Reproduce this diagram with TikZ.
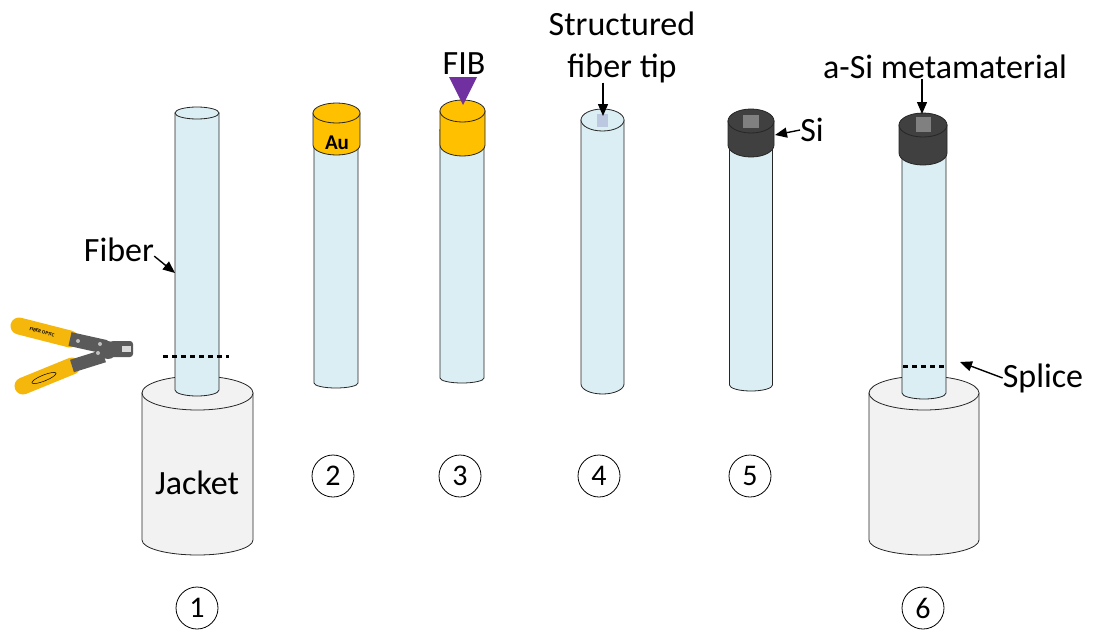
\documentclass[tikz,border=0pt]{standalone}
\usepackage{fontspec}
\setmainfont{Carlito}
\usetikzlibrary{positioning,arrows.meta}
\definecolor{fibreblue}{HTML}{DAEEF3}
\definecolor{jacketgray}{HTML}{F2F2F2}
\definecolor{gold}{HTML}{FFC000}
\definecolor{capdark}{HTML}{404040}
\definecolor{fibpurple}{HTML}{7030A0}
\definecolor{tipsquare}{HTML}{BCC8E0}
\definecolor{metasquare}{HTML}{808080}
\definecolor{plyellow}{HTML}{F5B70C}
\definecolor{plgray}{HTML}{5A5A5A}
\tikzset{lbl/.style={font=\fontsize{34}{42}\selectfont, inner sep=0pt}}
\tikzset{numcirc/.style={draw, circle, minimum size=42pt, inner sep=0pt, line width=0.8pt, font=\fontsize{30}{30}\selectfont}}
\tikzset{arr/.style={draw, -{Triangle[length=12pt,width=10pt]}, line width=1.4pt}}
\tikzset{cutline/.style={line width=3pt, dash pattern=on 5pt off 4pt}}
\tikzset{edge/.style={draw=black!85, line width=0.8pt}}
% cylinder: centre x, half width, top y, bottom y, top ry, bottom ry, fill
\newcommand{\tube}[7]{%
  \filldraw[edge, fill=#7] (#1-#2,#3) -- (#1-#2,#4)
    arc[start angle=180, end angle=360, x radius=#2pt, y radius=#6pt] -- (#1+#2,#3) -- cycle;
  \filldraw[edge, fill=#7] (#1,#3) ellipse[x radius=#2pt, y radius=#5pt];
}
\begin{document}
\begin{tikzpicture}[x=1pt, y=1pt]
\useasboundingbox (0,0) rectangle (1095,-632);
% 1: cleaved fibre in its jacket
\tube{197.5}{55.5}{-393}{-540}{17}{15}{jacketgray}
\tube{197}{22}{-113}{-390}{6}{6}{fibreblue}
\draw[cutline] (163,-356) -- (229,-356);
\node[lbl] (lbljacket) at (197,-483) {Jacket};
\node[lbl] (lblfiber) at (119,-250) {Fiber};
\coordinate (fibreside) at (175,-273);
\draw[arr] ([yshift=6pt]lblfiber.south east) -- (fibreside);
% stripper
\draw[line width=17pt, line cap=round, plyellow] (19,-326) -- (70,-339);
\draw[line width=14pt, plgray] (70,-339) -- (106,-347);
\draw[line width=17pt, line cap=round, plyellow] (23,-386) -- (72,-366);
\draw[line width=13pt, plgray] (72,-366) -- (104,-356);
\fill[plgray] (108,-350) circle (9pt);
\fill[plgray, rounded corners=3pt] (110,-341) rectangle (133,-357);
\fill[white!85!black] (122,-346) rectangle (131,-352);
\fill[black!25] (78,-341) circle (2pt) (98,-353) circle (2pt) (100,-344) circle (2pt);
\node[font=\fontsize{5}{5}\selectfont\bfseries, rotate=-15, inner sep=0pt] (brand) at (42,-332) {FIBER OPTIC};
\draw[line width=0.5pt, rotate around={22:(44,-378)}] (44,-378) ellipse[x radius=13pt, y radius=3pt];
% 2: gold coating
\tube{336}{22}{-130}{-383}{5}{5}{fibreblue}
\tube{336.5}{23.5}{-113}{-145}{10}{10}{gold}
\node[font=\bfseries\fontsize{21}{21}\selectfont, inner sep=0pt] (lblau) at (337,-143) {Au};
% 3: ion beam milling
\tube{462}{22}{-130}{-378}{5}{5}{fibreblue}
\tube{462.5}{22.5}{-111}{-145}{11}{11}{gold}
\fill[fibpurple] (449,-77) -- (477,-77) -- (463,-105) -- cycle;
\node[lbl] (lblfib) at (464,-64) {FIB};
% 4: structured tip
\tube{602.5}{21.5}{-120}{-384}{11}{10}{fibreblue}
\fill[tipsquare] (597,-114) rectangle (608,-127);
\node[lbl, align=center] (lbltip) at (622,-47) {Structured\\fiber tip};
\coordinate (tiptop) at (603,-116);
\draw[arr] (lbltip.south -| tiptop) -- (tiptop);
% 5: silicon deposition
\tube{751}{21.5}{-140}{-385}{6}{6}{fibreblue}
\tube{751}{23}{-121}{-145}{12}{12}{capdark}
\fill[metasquare] (743,-115) rectangle (759,-128);
\node[lbl] (lblsi) at (812,-130) {Si};
\coordinate (sicap) at (775,-135);
\draw[arr] (lblsi.west) -- (sicap);
% 6: spliced back into a jacket
\tube{924}{55}{-393}{-540}{17}{15}{jacketgray}
\tube{924}{22}{-140}{-393}{6}{6}{fibreblue}
\tube{923}{24}{-125}{-153}{12}{12}{capdark}
\fill[metasquare] (916,-117) rectangle (931,-132);
\draw[cutline] (903,-366) -- (944,-366);
\node[lbl] (lblmeta) at (945,-67) {a-Si metamaterial};
\coordinate (metatop) at (922,-114);
\draw[arr] (lblmeta.south -| metatop) -- (metatop);
\node[lbl] (lblsplice) at (1043,-378) {Splice};
\coordinate (splicept) at (960,-362);
\draw[arr] (lblsplice.west) -- (splicept);
% step numbers
\foreach \n/\x/\y in {1/197/608, 2/333/476, 3/460/476, 4/599/476, 5/750/476, 6/923/608}
  \node[numcirc] (num\n) at (\x,-\y) {\n};
\end{tikzpicture}
\end{document}
